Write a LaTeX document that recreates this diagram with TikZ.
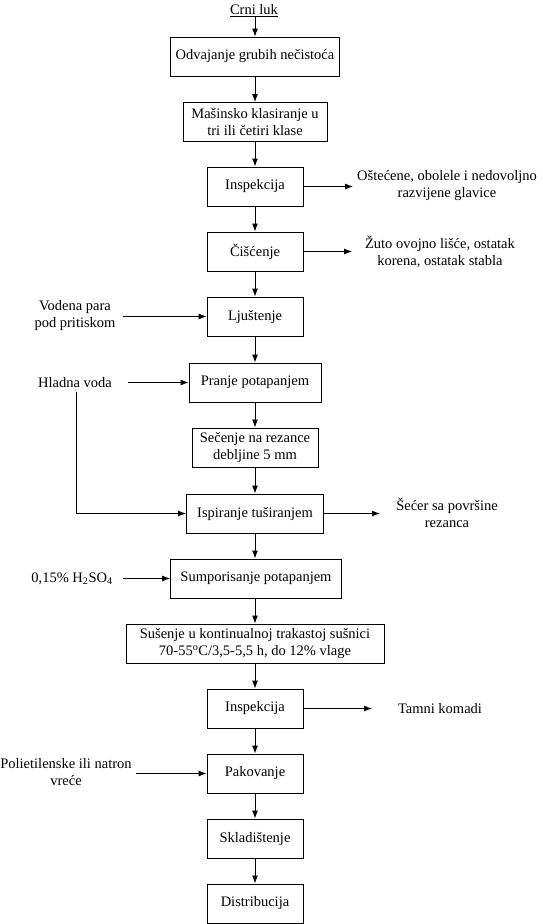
\documentclass[tikz,border=0pt]{standalone}
\usepackage{fontspec}
\setmainfont{Liberation Serif}
\usetikzlibrary{arrows.meta}
\begin{document}
\begin{tikzpicture}[x=1pt,y=-1pt,
 txt/.style={font=\fontsize{14.5}{17}\selectfont},
 box/.style={txt,draw,line width=0.9pt,inner sep=0pt,minimum height=39pt,align=center},
 lbl/.style={txt,inner sep=0pt,align=center},
 arr/.style={line width=0.9pt,-{Latex[length=8pt,width=6pt]}},
 ln/.style={line width=0.9pt}]
\useasboundingbox (0,0) rectangle (543,924);
% main column
\node[lbl] (crni) at (254,11) {\underline{Crni luk}};
\node[box,minimum width=169pt] (b1) at (255,56.5) {Odvajanje grubih nečistoća};
\node[box,minimum width=144pt] (b2) at (255,122) {Mašinsko klasiranje u\\tri ili četiri klase};
\node[box,minimum width=96pt] (b3) at (255,186.5) {Inspekcija};
\node[box,minimum width=96pt] (b4) at (255,251.5) {Čišćenje};
\node[box,minimum width=96pt] (b5) at (255,316.5) {Ljuštenje};
\node[box,minimum width=132pt] (b6) at (255,382.5) {Pranje potapanjem};
\node[box,minimum width=126pt] (b7) at (255,447.5) {Sečenje na rezance\\debljine 5 mm};
\node[box,minimum width=137pt] (b8) at (255,513.5) {Ispiranje tuširanjem};
\node[box,minimum width=171pt] (b9) at (256,578.5) {Sumporisanje potapanjem};
\node[box,minimum width=258pt] (b10) at (255,643.5) {Sušenje u kontinualnoj trakastoj sušnici\\70-55\textsuperscript{o}C/3,5-5,5 h, do 12\% vlage};
\node[box,minimum width=96pt] (b11) at (255,708.5) {Inspekcija};
\node[box,minimum width=96pt] (b12) at (255,773.5) {Pakovanje};
\node[box,minimum width=96pt] (b13) at (255,838.5) {Skladištenje};
\node[box,minimum width=96pt] (b14) at (255,903.5) {Distribucija};
% side labels
\node[lbl] (o1) at (447,186) {Oštećene, obolele i nedovoljno\\razvijene glavice};
\node[lbl] (o2) at (440,251.5) {Žuto ovojno lišće, ostatak\\korena, ostatak stabla};
\node[lbl] (o3) at (447,513) {Šećer sa površine\\rezanca};
\node[lbl] (o4) at (440,708.5) {Tamni komadi};
\node[lbl] (i1) at (75,316) {Vodena para\\pod pritiskom};
\node[lbl] (i2) at (75,382.5) {Hladna voda};
\node[lbl] (i3) at (72,578.5) {0,15\% H\textsubscript{2}SO\textsubscript{4}};
\node[lbl] (i4) at (66,772.5) {Polietilenske ili natron\\vreće};
% connector ends
\coordinate (r1) at (353,186.5);
\coordinate (r2) at (352,251.5);
\coordinate (r3) at (380,513.5);
\coordinate (r4) at (372,708.5);
\coordinate (l1) at (123,316.5);
\coordinate (l2) at (128,382.5);
\coordinate (l3) at (123,578.5);
\coordinate (l4) at (136,773.5);
\coordinate (hvs) at (76,392);
\coordinate (ctop) at (255,16);
% vertical flow
\draw[arr] (ctop) -- (b1.north);
\draw[arr] (b1) -- (b2);
\draw[arr] (b2) -- (b3);
\draw[arr] (b3) -- (b4);
\draw[arr] (b4) -- (b5);
\draw[arr] (b5) -- (b6);
\draw[arr] (b6) -- (b7);
\draw[arr] (b7) -- (b8);
\draw[arr] (b8.south) -- (b8.south |- b9.north);
\draw[arr] (b9.south -| b10.north) -- (b10.north);
\draw[arr] (b10) -- (b11);
\draw[arr] (b11) -- (b12);
\draw[arr] (b12) -- (b13);
\draw[arr] (b13) -- (b14);
% outputs
\draw[arr] (b3.east) -- (r1);
\draw[arr] (b4.east) -- (r2);
\draw[arr] (b8.east) -- (r3);
\draw[arr] (b11.east) -- (r4);
% inputs
\draw[arr] (l1) -- (b5.west);
\draw[arr] (l2) -- (b6.west);
\draw[arr] (hvs) -- (hvs |- b8.west) -- (b8.west);
\draw[arr] (l3) -- (b9.west);
\draw[arr] (l4) -- (b12.west);
\end{tikzpicture}
\end{document}
